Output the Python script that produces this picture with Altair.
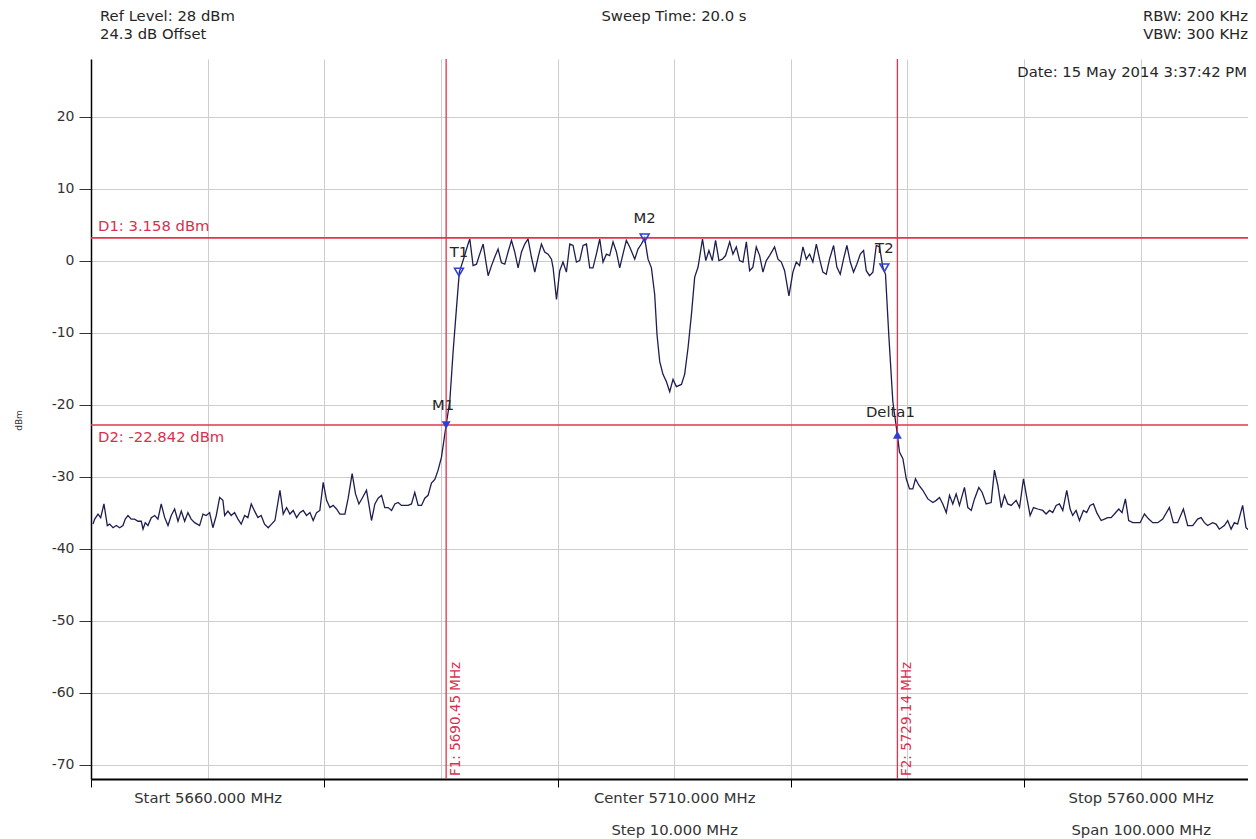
import altair as alt
import pandas as pd

# ---------------- trace data (MHz, dBm) ----------------
noise_left_freq = [5660.17, 5660.32, 5660.60, 5660.83, 5661.11, 5661.40, 5661.60, 5661.89, 5662.17, 5662.46,
                   5662.74, 5662.94, 5663.17, 5663.45, 5663.74, 5664.03, 5664.31, 5664.46, 5664.65, 5664.88,
                   5665.17, 5665.46, 5665.74, 5666.02, 5666.32, 5666.60, 5666.88, 5667.17, 5667.46, 5667.74,
                   5668.03, 5668.31, 5668.59, 5668.89, 5669.31, 5669.60, 5669.88, 5670.17, 5670.45, 5670.74,
                   5671.03, 5671.31, 5671.46, 5671.74, 5672.02, 5672.31, 5672.60, 5672.88, 5673.17, 5673.45,
                   5673.74, 5674.03, 5674.31, 5674.59, 5674.88]
noise_left_level = [-36.6, -35.9, -35.2, -35.7, -33.8, -36.8, -36.6, -37.1, -36.8, -37.1,
                    -36.8, -35.9, -35.4, -35.9, -35.9, -36.2, -36.2, -37.3, -36.4, -36.8,
                    -35.7, -35.4, -35.9, -33.8, -35.7, -36.8, -35.4, -34.5, -36.2, -34.8,
                    -36.2, -35.0, -35.9, -36.4, -36.8, -35.2, -35.4, -35.0, -37.1, -35.4,
                    -32.9, -33.3, -35.4, -34.8, -35.4, -35.0, -35.9, -36.6, -35.4, -35.7,
                    -33.8, -34.8, -35.7, -35.4, -36.6]

noise_mid_freq = [5675.19, 5675.48, 5675.77, 5676.20, 5676.48, 5676.77, 5677.05, 5677.34, 5677.63, 5677.91,
                  5678.19, 5678.48, 5678.77, 5679.05, 5679.34, 5679.62, 5679.91, 5680.20, 5680.48, 5680.76,
                  5681.05, 5681.34, 5681.77, 5682.05, 5682.39, 5682.68, 5682.97, 5683.25, 5683.62, 5683.82,
                  5684.05, 5684.34, 5684.62, 5684.91, 5685.19, 5685.48, 5685.77, 5686.05, 5686.33, 5686.62,
                  5686.91, 5687.19, 5687.48, 5687.76, 5688.05, 5688.34, 5688.62, 5688.90, 5689.19, 5689.48,
                  5689.76, 5690.05]
noise_mid_level = [-37.1, -36.6, -36.1, -31.9, -35.2, -34.3, -35.2, -34.7, -35.7, -35.0,
                   -34.7, -35.4, -35.0, -36.1, -35.0, -34.7, -30.8, -33.3, -34.3, -34.0,
                   -34.5, -35.2, -35.2, -33.0, -29.6, -32.4, -33.8, -33.0, -31.9, -33.8,
                   -36.1, -33.8, -33.0, -32.6, -34.3, -34.3, -34.7, -33.8, -33.6, -34.0,
                   -34.0, -34.0, -33.8, -32.2, -34.0, -34.0, -33.0, -32.6, -30.9, -30.4,
                   -29.1, -27.3]

band_left_freq = [5690.45, 5690.76, 5691.05, 5691.34, 5691.58, 5691.90, 5692.33, 5692.48, 5692.76, 5693.05,
                  5693.33, 5693.62, 5693.91, 5694.05, 5694.34, 5694.62, 5694.90, 5695.19, 5695.48, 5695.76,
                  5696.05, 5696.33, 5696.62, 5696.91, 5697.19, 5697.47, 5697.76, 5698.05, 5698.34, 5698.62,
                  5698.90, 5699.19, 5699.48, 5699.62, 5699.91, 5700.19, 5700.47, 5700.76, 5701.05, 5701.33,
                  5701.62, 5701.90, 5702.19, 5702.48, 5702.76, 5703.04, 5703.33, 5703.62, 5703.90, 5704.19,
                  5704.47, 5704.76, 5705.05, 5705.33, 5705.61, 5705.90, 5706.19, 5706.62, 5706.90, 5707.19,
                  5707.47, 5707.76, 5708.05]
band_left_level = [-22.8, -19.6, -12.6, -6.5, -1.6, 0.0, 2.3, 3.0, -0.7, -0.5,
                   0.9, 2.3, -0.7, -2.1, -0.7, 0.5, 1.6, -0.3, -0.5, 1.2,
                   2.8, 1.2, -1.0, 1.2, 2.3, 3.0, 0.5, -1.6, 0.5, 2.3,
                   1.2, 0.9, 0.2, -1.0, -5.4, -1.4, -0.2, -1.6, 2.3, 2.1,
                   -0.2, 0.0, 2.1, 2.3, -1.0, -1.0, 0.9, 3.0, -0.2, 0.9,
                   0.7, 2.6, 1.2, -1.0, 0.9, 2.8, 1.9, 0.2, 1.6, 2.3,
                   3.158, 0.2, -1.0]

band_right_freq = [5708.33, 5708.53, 5708.76, 5709.04, 5709.33, 5709.62, 5709.90, 5710.19, 5710.62, 5710.90,
                   5711.19, 5711.48, 5711.76, 5712.05, 5712.43, 5712.71, 5712.98, 5713.27, 5713.55, 5713.84,
                   5714.13, 5714.41, 5714.76, 5715.04, 5715.33, 5715.61, 5715.90, 5716.19, 5716.47, 5716.75,
                   5717.04, 5717.33, 5717.61, 5717.90, 5718.18, 5718.61, 5718.90, 5719.19, 5719.47, 5719.84,
                   5720.18, 5720.47, 5720.75, 5721.04, 5721.33, 5721.61, 5721.89, 5722.19, 5722.47, 5722.75,
                   5723.04, 5723.32, 5723.67, 5723.95, 5724.24, 5724.52, 5724.81, 5725.10, 5725.38, 5725.66,
                   5725.96, 5726.24, 5726.47, 5726.75, 5727.04, 5727.33, 5727.61, 5727.89, 5728.12]
band_right_level = [-4.7, -10.3, -14.0, -15.8, -16.8, -18.2, -16.5, -17.5, -17.2, -15.8,
                    -12.1, -7.5, -2.3, -0.9, 3.0, 0.0, 1.4, 0.0, 2.8, 0.0,
                    0.2, 0.7, 2.6, 0.9, 1.9, 0.0, -0.2, 2.6, -1.4, -0.9,
                    1.9, 0.7, -1.6, 0.0, 0.7, 1.9, 0.2, -0.2, -1.4, -4.9,
                    -1.6, -0.2, -0.7, 1.9, 0.2, 0.9, -0.2, 2.3, 0.2, -1.6,
                    -1.9, 0.2, 2.1, -0.9, -1.9, 0.2, 2.1, -0.2, -1.6, -0.5,
                    0.9, 1.4, -1.4, -2.1, -1.6, 2.1, 1.9, -0.9, -1.9]

noise_right_freq = [5728.40, 5728.75, 5729.14, 5729.32, 5729.61, 5729.90, 5730.18, 5730.46, 5730.69, 5730.98,
                    5731.32, 5731.75, 5732.18, 5732.47, 5732.75, 5733.03, 5733.33, 5733.61, 5733.89, 5734.18,
                    5734.46, 5734.89, 5735.18, 5735.47, 5735.75, 5736.12, 5736.41, 5736.75, 5737.18, 5737.46,
                    5737.75, 5738.04, 5738.32, 5738.60, 5738.90, 5739.32, 5739.61, 5739.95, 5740.23, 5740.52,
                    5740.81, 5741.17, 5741.60, 5741.89, 5742.18, 5742.46, 5742.75, 5743.03, 5743.32, 5743.66,
                    5743.95, 5744.17, 5744.46, 5744.75, 5745.09, 5745.37, 5745.66, 5745.95, 5746.23, 5746.61,
                    5746.89, 5747.17, 5747.46, 5747.75, 5748.12, 5748.40, 5748.69, 5748.97, 5749.32, 5749.61,
                    5749.95, 5750.32, 5750.69, 5751.03, 5751.46, 5751.89, 5752.46, 5752.80, 5753.17, 5753.66,
                    5754.03, 5754.46, 5754.88, 5755.18, 5755.46, 5755.74, 5756.17, 5756.46, 5756.74, 5757.17,
                    5757.46, 5757.75, 5758.03, 5758.31, 5758.74, 5759.03, 5759.31, 5759.73]
noise_right_level = [-10.3, -19.6, -24.2, -26.6, -27.5, -30.3, -31.7, -31.7, -30.3, -31.2,
                     -31.9, -33.1, -33.6, -33.3, -32.9, -33.8, -35.0, -32.6, -33.8, -32.4,
                     -34.0, -31.5, -34.3, -34.7, -33.1, -31.5, -32.2, -33.8, -33.6, -29.1,
                     -31.2, -34.3, -32.6, -33.8, -34.0, -33.3, -34.3, -30.3, -32.9, -35.4,
                     -34.3, -34.5, -34.7, -35.2, -34.7, -35.0, -34.0, -33.8, -34.7, -31.9,
                     -34.5, -35.4, -34.7, -36.1, -34.7, -35.0, -34.0, -33.8, -35.0, -36.1,
                     -35.9, -35.7, -35.7, -35.2, -34.5, -35.0, -33.1, -36.1, -36.4, -36.4,
                     -36.4, -35.2, -35.9, -36.4, -36.4, -35.9, -34.3, -36.4, -36.4, -34.5,
                     -36.8, -36.8, -35.9, -35.7, -36.4, -36.8, -36.4, -36.6, -37.3, -36.8,
                     -36.1, -37.3, -36.4, -36.6, -34.0, -37.1, -37.5, -37.3]

# ---------------- markers, display lines, labels ----------------
marker_names = ["M1", "T1", "M2", "T2", "Delta1"]
marker_freq = [5690.45, 5691.55, 5707.47, 5728.02, 5729.14]
marker_level = [-22.842, -1.6, 3.158, -1.0, -24.2]

display_line_names = ["D1: 3.158 dBm", "D2: -22.842 dBm"]
display_line_level = [3.158, -22.842]

freq_line_names = ["F1: 5690.45 MHz", "F2: 5729.14 MHz"]
freq_line_freq = [5690.45, 5729.14]

grid_freqs = [5660, 5670, 5680, 5690, 5700, 5710, 5720, 5730, 5740, 5750]
level_ticks = [-70, -60, -50, -40, -30, -20, -10, 0, 10, 20]

header_left = ["Ref Level: 28 dBm", "24.3 dB Offset"]
header_center = "Sweep Time: 20.0 s"
header_right = ["RBW: 200 KHz", "VBW: 300 KHz"]
date_text = "Date: 15 May 2014 3:37:42 PM"
y_title = "dBm"

x_label_expr = (
    "datum.value == 5670 ? 'Start 5660.000 MHz' : "
    "datum.value == 5710 ? ['Center 5710.000 MHz', 'Step 10.000 MHz'] : "
    "datum.value == 5750 ? ['Stop 5760.000 MHz', 'Span 100.000 MHz'] : ''"
)

# ---------------- tables ----------------
trace = pd.DataFrame({
    "freq": noise_left_freq + noise_mid_freq + band_left_freq + band_right_freq + noise_right_freq,
    "level": noise_left_level + noise_mid_level + band_left_level + band_right_level + noise_right_level,
})
markers = pd.DataFrame({"name": marker_names, "freq": marker_freq, "level": marker_level})
dlines = pd.DataFrame({"name": display_line_names, "level": display_line_level})
flines = pd.DataFrame({"name": freq_line_names, "freq": freq_line_freq})

FONT = "DejaVu Sans"
FS = 14.8
RED = "#e3334f"
RED_TEXT = "#d8304e"
BLUE = "#2d3fd4"
TRACE = "#1d1d4f"
INK = "#262626"

x_scale = alt.Scale(domain=[5660, 5759.2], nice=False, zero=False)
y_scale = alt.Scale(domain=[-72, 28], nice=False, zero=False)

x_axis = alt.Axis(
    values=grid_freqs, grid=True, gridColor="#cdcdcd", gridWidth=1,
    domainColor="#000000", domainWidth=2,
    tickColor="#000000", tickSize=8, tickWidth=1,
    tickOpacity=alt.condition("datum.value % 20 == 0", alt.value(1), alt.value(0)),
    labelExpr=x_label_expr, labelFont=FONT, labelFontSize=FS, labelColor="#333333",
    labelPadding=3, labelLineHeight=32, labelOverlap=False, labelFlush=False,
    labelBaseline="top", labelAlign="center", title=None,
)
y_axis = alt.Axis(
    values=level_ticks, grid=True, gridColor="#cdcdcd", gridWidth=1,
    domainColor="#000000", domainWidth=1.5,
    tickColor="#333333", tickSize=12, tickWidth=1,
    labelExpr="'' + datum.value",
    labelFont=FONT, labelFontSize=14, labelColor="#333333", labelPadding=5,
    title=y_title, titleFont=FONT, titleFontSize=9, titleFontWeight="normal",
    titleColor="#333333", titleAngle=270, titleAlign="center", titleBaseline="middle",
    titleX=-73, titleY=361,
)

X = alt.X("freq:Q", scale=x_scale, axis=x_axis)
Y = alt.Y("level:Q", scale=y_scale, axis=y_axis)
Xn = alt.X("freq:Q", scale=x_scale)
Yn = alt.Y("level:Q", scale=y_scale)

trace_layer = alt.Chart(trace).mark_line(color=TRACE, strokeWidth=1.3).encode(x=X, y=Y, order="freq:Q")

dline_layer = alt.Chart(dlines).mark_rule(color=RED, strokeWidth=1.6).encode(y=Yn)
dline_text = alt.Chart(dlines).mark_text(
    font=FONT, fontSize=FS, color=RED_TEXT, align="left", baseline="middle", dy=-11
).encode(x=alt.value(7), y=Yn, text="name:N").transform_filter(alt.datum.level > 0)
dline_text2 = alt.Chart(dlines).mark_text(
    font=FONT, fontSize=FS, color=RED_TEXT, align="left", baseline="middle", dy=13
).encode(x=alt.value(7), y=Yn, text="name:N").transform_filter(alt.datum.level < 0)

fline_layer = alt.Chart(flines).mark_rule(color=RED, strokeWidth=1.3).encode(x=Xn)
fline_text = alt.Chart(flines).mark_text(
    font=FONT, fontSize=13.5, color=RED_TEXT, align="left", baseline="top", angle=270, dx=3, dy=3
).encode(x=Xn, y=alt.value(720), text="name:N")

filled_down = alt.Chart(markers).mark_point(
    shape="triangle-down", filled=True, color=BLUE, size=80, opacity=1
).encode(x=Xn, y=Yn).transform_filter(alt.FieldOneOfPredicate(field="name", oneOf=["M1"]))
hollow_down = alt.Chart(markers).mark_point(
    shape="triangle-down", filled=False, color=BLUE, size=80, strokeWidth=1.5, opacity=1
).encode(x=Xn, y=Yn).transform_filter(alt.FieldOneOfPredicate(field="name", oneOf=["T1", "M2", "T2"]))
filled_up = alt.Chart(markers).mark_point(
    shape="triangle-up", filled=True, color=BLUE, size=80, opacity=1
).encode(x=Xn, y=Yn).transform_filter(alt.FieldOneOfPredicate(field="name", oneOf=["Delta1"]))

marker_text = alt.Chart(markers).mark_text(
    font=FONT, fontSize=FS, color=INK, align="center", baseline="middle", dy=-19
).encode(x=Xn, y=Yn, text="name:N").transform_filter(
    alt.FieldOneOfPredicate(field="name", oneOf=["T1", "M2", "T2"]))
m1_text = alt.Chart(markers).mark_text(
    font=FONT, fontSize=FS, color=INK, align="center", baseline="middle", dy=-19, dx=-3
).encode(x=Xn, y=Yn, text="name:N").transform_filter(
    alt.FieldOneOfPredicate(field="name", oneOf=["M1"]))
delta_text = alt.Chart(markers).mark_text(
    font=FONT, fontSize=FS, color=INK, align="center", baseline="middle", dy=-22, dx=-7
).encode(x=Xn, y=Yn, text="name:N").transform_filter(
    alt.FieldOneOfPredicate(field="name", oneOf=["Delta1"]))

one = pd.DataFrame({"k": [0]})


def note(text, x, y, align):
    return alt.Chart(one).mark_text(
        font=FONT, fontSize=FS, color=INK, align=align, baseline="middle"
    ).encode(x=alt.value(x), y=alt.value(y), text=alt.value(text))


headers = [
    note(header_left[0], 9, -42, "left"),
    note(header_left[1], 9, -24, "left"),
    note(header_center, 583, -42, "center"),
    note(header_right[0], 1157, -42, "right"),
    note(header_right[1], 1157, -24, "right"),
    note(date_text, 1156, 14, "right"),
]

chart = alt.layer(
    trace_layer, dline_layer, fline_layer, dline_text, dline_text2, fline_text,
    filled_down, hollow_down, filled_up, marker_text, m1_text, delta_text, *headers
).properties(
    width=1157, height=720,
    autosize=alt.AutoSizeParams(type="none"),
    padding={"left": 83, "top": 51, "right": 0, "bottom": 60},
    background="white",
).configure_view(stroke=None)

chart.save("out.html", embed_options={"renderer": "svg", "actions": False})
